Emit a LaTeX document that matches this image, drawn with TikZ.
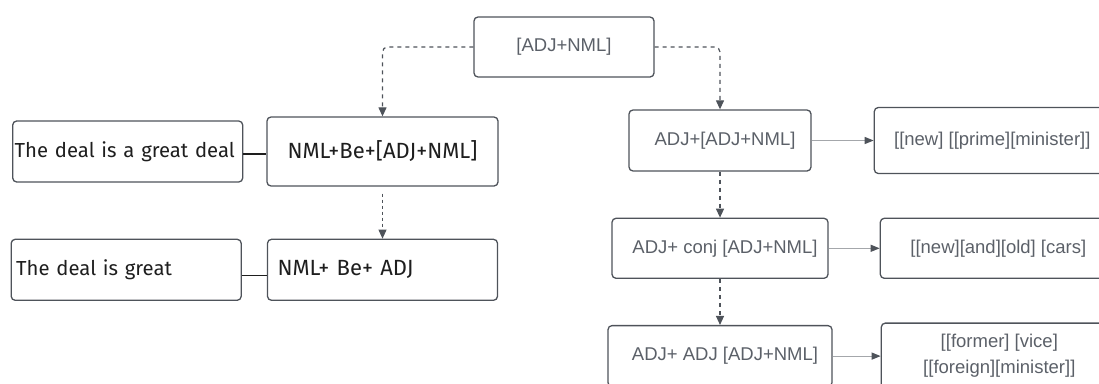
\documentclass[tikz,border=0pt]{standalone}
\usepackage{fontspec}
\setmainfont{Liberation Sans}
\newfontfamily\dinfont{Fira Sans}
\usetikzlibrary{arrows.meta, positioning}

\definecolor{edgegray}{HTML}{4E535A}
\definecolor{labelgray}{HTML}{5B6068}
\definecolor{shaftgray}{HTML}{A4A7AB}
\definecolor{inkdark}{HTML}{1E1E1E}

\begin{document}
\begin{tikzpicture}[x=1pt, y=-1pt,
            box/.style={draw=edgegray, line width=1.3pt, rounded corners=4pt, minimum height=61pt},
            sentence/.style={box, font=\dinfont\fontsize{20.3}{24}\selectfont, text=inkdark,
                             inner xsep=2pt, text width=226pt, align=left},
            phrase/.style={box, font=\dinfont\fontsize{22}{26}\selectfont, text=inkdark},
            pattern/.style={box, font=\fontsize{18.5}{22}\selectfont, text=labelgray},
            example/.style={pattern, font=\fontsize{18.5}{26}\selectfont, minimum width=236pt,
                            minimum height=66pt, align=center},
            flow/.style={draw=edgegray, line width=1.2pt, dash pattern=on 4pt off 4pt,
                         rounded corners=5pt, -{Triangle[length=9pt, width=8pt]}},
            link/.style={draw=inkdark, line width=1.2pt},
            feed/.style={draw=shaftgray, line width=1.2pt, -{Triangle[length=9pt, width=7pt, color=edgegray]}}]

            \useasboundingbox (0,0) rectangle (1099,383);
            \clip (0,0) rectangle (1099,383);

            % Root pattern
            \node[pattern, minimum width=180pt, minimum height=60pt] (root) at (564,47) {[ADJ+NML]};

            % Left branch: predicative use
            \node[phrase, minimum width=231pt, minimum height=69pt] (nmlbe) at (382.5,151.5) {NML+Be+[ADJ+NML]};
            \node[sentence, left=23pt of nmlbe] (greatdeal) {The deal is a great deal};
            \node[phrase, inner xsep=10pt, text width=210pt, align=left, below=52pt of nmlbe] (nmlbeadj) {NML+ Be+ ADJ};
            \node[sentence, inner xsep=5pt, text width=220pt, left=25pt of nmlbeadj] (dealgreat) {The deal is great};

            % Right branch: attributive chains
            \node[pattern, minimum width=182pt] (adjnml) at (720,140.5) {\hspace*{10pt}ADJ+[ADJ+NML]};
            \node[example, right=62pt of adjnml] (primeminister) {[[new] [[prime][minister]]};
            \node[pattern, minimum width=216pt, minimum height=60pt, below=46pt of adjnml] (conjnml) {\hspace*{10pt}ADJ+ conj [ADJ+NML]};
            \node[example, minimum height=60pt, right=51pt of conjnml] (oldcars) {[[new][and][old] [cars]};
            \node[pattern, minimum width=224pt, below=46pt of conjnml] (adjadjnml) {\hspace*{10pt}ADJ+ ADJ [ADJ+NML]};
            \node[example, right=48pt of adjadjnml] (viceminister) {[[former] [vice]\\{[[foreign][minister]]}};

            % Dashed derivations
            \draw[flow] (root.west) -| (nmlbe.north);
            \draw[flow] (root.east) -| (adjnml.north);
            \draw[flow, line width=0.9pt, dash pattern=on 3pt off 3pt, shorten <=7pt] (nmlbe) -- (nmlbeadj);
            \draw[flow] (adjnml) -- (conjnml);
            \draw[flow] (conjnml) -- (adjadjnml);

            % Sentence links
            \draw[link] ([yshift=-2.5pt]greatdeal.east) -- ([yshift=-2.5pt]greatdeal.east -| nmlbe.west);
            \draw[link] ([yshift=-5.5pt]dealgreat.east) -- ([yshift=-5.5pt]dealgreat.east -| nmlbeadj.west);

            % Examples
            \draw[feed] (adjnml) -- (primeminister);
            \draw[feed] (conjnml) -- (oldcars);
            \draw[feed] (adjadjnml.east) -- (adjadjnml.east -| viceminister.west);
        \end{tikzpicture}
\end{document}
